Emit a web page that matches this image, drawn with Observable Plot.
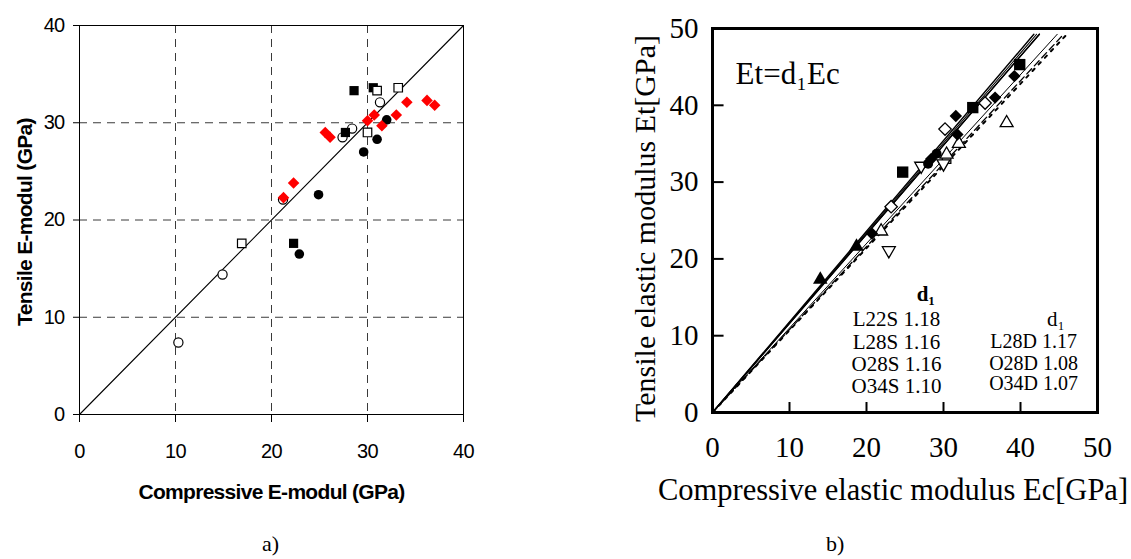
<!DOCTYPE html>
<html>
<head>
<meta charset="utf-8">
<script src="https://cdn.jsdelivr.net/npm/d3@7"></script>
<script src="https://cdn.jsdelivr.net/npm/@observablehq/plot@0.6"></script>
<style>
  body { margin: 0; background: #fff; }
  #fig { position: relative; width: 1131px; height: 559px; overflow: hidden; background: #fff; }
  #pa { position: absolute; left: 0; top: 0; }
  #pb { position: absolute; left: 560px; top: 0; }
  #pa svg text { letter-spacing: -0.7px; }
  .cap { position: absolute; top: 531px; font-family: "Liberation Serif", "Times New Roman", serif; font-size: 22px; color: #000; }
</style>
</head>
<body>
<div id="fig">
  <div id="pa"></div>
  <div id="pb"></div>
  <div class="cap" style="left:262px">a)</div>
  <div class="cap" style="left:826px">b)</div>
</div>
<script>
// ---------- a) Tensile vs compressive E-modul (GPa) ----------
const aTicks = [0, 10, 20, 30, 40];
const aOpenCircle   = [[10.3, 7.4], [14.9, 14.4], [21.2, 22.1], [27.4, 28.5], [28.4, 29.4], [31.3, 32.1]];
const aFilledCircle = [[22.9, 16.5], [24.9, 22.6], [29.6, 27.0], [31.0, 28.3], [32.0, 30.3]];
const aFilledSquare = [[22.3, 17.6], [27.7, 29.0], [28.6, 33.3], [30.6, 33.6]];
const aOpenSquare   = [[16.9, 17.6], [30.0, 29.0], [31.0, 33.3], [33.2, 33.6]];
const aRedDiamond   = [[21.25, 22.3], [22.3, 23.8], [25.6, 29.0], [26.1, 28.5], [30.0, 30.2], [30.7, 30.8],
                       [31.5, 29.7], [33.0, 30.8], [34.1, 32.1], [36.2, 32.3], [37.0, 31.8]];

// ---------- b) Et = d1 Ec ----------
const bTicks = [0, 10, 20, 30, 40, 50];
const bSeries = ["L22S", "L28S", "O28S", "O34S", "L28D", "O28D", "O34D"];
const bD1     = [1.18, 1.16, 1.16, 1.10, 1.17, 1.08, 1.07];
const bFilledTriangle = [[14.0, 17.3], [18.7, 21.6]];
const bFilledDiamond  = [[20.7, 23.3], [28.4, 33.0], [31.6, 38.6], [31.8, 36.2], [36.7, 41.0], [39.2, 43.8]];
const bFilledCircle   = [[28.0, 32.4], [29.1, 33.7]];
const bFilledSquare   = [[24.7, 31.3], [33.8, 39.7], [39.9, 45.3]];
const bOpenTriangleUp = [[21.9, 23.6], [30.4, 33.6], [32.0, 35.0], [38.2, 37.7]];
const bOpenTriangleDn = [[22.9, 21.1], [27.1, 32.1], [30.0, 32.4]];
const bOpenDiamond    = [[23.2, 26.8], [30.2, 36.9], [35.4, 40.3]];
const bOpenSquare     = [[30.4, 33.0]];

const sans = "'Liberation Sans', Arial, sans-serif";
const serif = "'Liberation Serif', 'Times New Roman', serif";
const px = d => d[0], py = d => d[1];

// Panel a
const gridStyle = {stroke: "#3a3a3a", strokeWidth: 1, strokeDasharray: "8,6"};
const inner = aTicks.slice(1, -1);
const plotA = Plot.plot({
  width: 480, height: 520,
  marginLeft: 79, marginRight: 17, marginTop: 25, marginBottom: 106,
  style: {fontFamily: sans, background: "#fff", color: "#000"},
  x: {domain: d3.extent(aTicks)},
  y: {domain: d3.extent(aTicks)},
  marks: [
    Plot.ruleX(inner, gridStyle),
    Plot.ruleY(inner, gridStyle),
    Plot.line(d3.extent(aTicks), {x: d => d, y: d => d, stroke: "#000", strokeWidth: 1.1}),
    Plot.frame({stroke: "#000", strokeWidth: 1}),
    Plot.axisX(aTicks, {tickSize: 8, tickPadding: 21, fontSize: 20, label: null}),
    Plot.axisY(aTicks, {tickSize: 6, tickPadding: 9, fontSize: 20, label: null}),
    Plot.text(["Compressive E-modul (GPa)"], {frameAnchor: "bottom", lineAnchor: "middle", dy: 78, fontSize: 21, fontWeight: "bold"}),
    Plot.text(["Tensile E-modul (GPa)"], {frameAnchor: "left", textAnchor: "middle", lineAnchor: "middle", dx: -54, dy: 2, rotate: -90, fontSize: 21, fontWeight: "bold"}),
    Plot.dot(aOpenCircle,   {x: px, y: py, symbol: "circle", r: 4.6, fill: "#fff", stroke: "#000", strokeWidth: 1.2}),
    Plot.dot(aFilledCircle, {x: px, y: py, symbol: "circle", r: 4.8, fill: "#000", stroke: "none"}),
    Plot.dot(aFilledSquare, {x: px, y: py, symbol: "square", r: 5.2, fill: "#000", stroke: "none"}),
    Plot.dot(aOpenSquare,   {x: px, y: py, symbol: "square", r: 4.8, fill: "#fff", stroke: "#000", strokeWidth: 1.2}),
    Plot.dot(aRedDiamond,   {x: px, y: py, symbol: "diamond2", r: 5.2, fill: "#ff0000", stroke: "none"})
  ]
});
document.getElementById("pa").append(plotA);

// Panel b: fitted lines Et = d1 * Ec, each ending just below the top of the frame
const bTop = d3.max(bTicks);
const lineStyles = {
  L22S: {strokeWidth: 1.4},
  L28S: {strokeWidth: 1.3},
  O28S: {strokeWidth: 1.2},
  O34S: {strokeWidth: 1.0},
  L28D: {strokeWidth: 1.1},
  O28D: {strokeWidth: 1.3, strokeDasharray: "7,4"},
  O34D: {strokeWidth: 2.0, strokeDasharray: "3,6"}
};
const fitLines = bSeries.map((name, i) => {
  const d = bD1[i];
  const xEnd = (bTop * 0.985) / d;
  return {name, pts: [{x: 0, y: 0}, {x: xEnd, y: d * xEnd}]};
});

// legend rows (S series on the left, D series on the right)
const legendRows = bSeries.map((n, i) => ({label: `${n} ${bD1[i].toFixed(2)}`, n}));
const legendS = legendRows.filter(d => d.n.endsWith("S"));
const legendD = legendRows.filter(d => d.n.endsWith("D"));
const rowYS = [12.1, 9.2, 6.3, 3.4];
const rowYD = [9.2, 6.4, 3.8];

const bInner = bTicks.slice(1, -1);
const plotB = Plot.plot({
  width: 571, height: 520,
  marginLeft: 152, marginRight: 34, marginTop: 28, marginBottom: 108,
  style: {fontFamily: serif, background: "#fff", color: "#000"},
  x: {domain: d3.extent(bTicks)},
  y: {domain: d3.extent(bTicks)},
  marks: [
    ...fitLines.map(l => Plot.line(l.pts, {x: "x", y: "y", stroke: "#000", ...lineStyles[l.name]})),
    Plot.ruleX(bInner, {y1: 0, y2: 1.3, stroke: "#000", strokeWidth: 2}),
    Plot.ruleY(bInner, {x1: 0, x2: 1.5, stroke: "#000", strokeWidth: 2}),
    Plot.frame({stroke: "#000", strokeWidth: 3}),
    Plot.axisX(bTicks, {tickSize: 0, tickPadding: 24, fontSize: 29, label: null}),
    Plot.axisY(bTicks, {tickSize: 0, tickPadding: 14, fontSize: 29, label: null}),
    Plot.text(["Compressive elastic modulus Ec[GPa]"], {frameAnchor: "bottom", lineAnchor: "middle", dx: -12, dy: 78, fontSize: 30.5}),
    Plot.text(["Tensile elastic modulus Et[GPa]"], {frameAnchor: "left", textAnchor: "middle", lineAnchor: "middle", dx: -67, dy: 8, rotate: -90, fontSize: 30}),
    Plot.text(["Et=d\u2081Ec"], {x: 3.0, y: 44.1, textAnchor: "start", fontSize: 31}),
    Plot.text(["d\u2081"], {x: 27.7, y: 15.4, fontSize: 21, fontWeight: "bold"}),
    Plot.text(legendS, {x: 23.9, y: (d, i) => rowYS[i], text: "label", fontSize: 21}),
    Plot.text(["d\u2081"], {x: 44.6, y: 12.1, fontSize: 21}),
    Plot.text(legendD, {x: 41.7, y: (d, i) => rowYD[i], text: "label", fontSize: 20}),
    Plot.dot(bOpenDiamond,    {x: px, y: py, symbol: "diamond2", r: 5.6, fill: "#fff", stroke: "#000", strokeWidth: 1.3}),
    Plot.dot(bOpenSquare,     {x: px, y: py, symbol: "square", r: 4.8, fill: "#fff", stroke: "#000", strokeWidth: 1.3}),
    Plot.dot(bOpenTriangleUp, {x: px, y: py, symbol: "triangle", r: 4.8, fill: "#fff", stroke: "#000", strokeWidth: 1.3}),
    Plot.dot(bOpenTriangleDn, {x: px, y: py, symbol: "triangle", r: 4.8, rotate: 180, fill: "#fff", stroke: "#000", strokeWidth: 1.3}),
    Plot.dot(bFilledCircle,   {x: px, y: py, symbol: "circle", r: 5.0, fill: "#000", stroke: "none"}),
    Plot.dot(bFilledDiamond,  {x: px, y: py, symbol: "diamond2", r: 5.6, fill: "#000", stroke: "none"}),
    Plot.dot(bFilledTriangle, {x: px, y: py, symbol: "triangle", r: 5.4, fill: "#000", stroke: "none"}),
    Plot.dot(bFilledSquare,   {x: px, y: py, symbol: "square", r: 6.4, fill: "#000", stroke: "none"})
  ]
});
document.getElementById("pb").append(plotB);
</script>
</body>
</html>
